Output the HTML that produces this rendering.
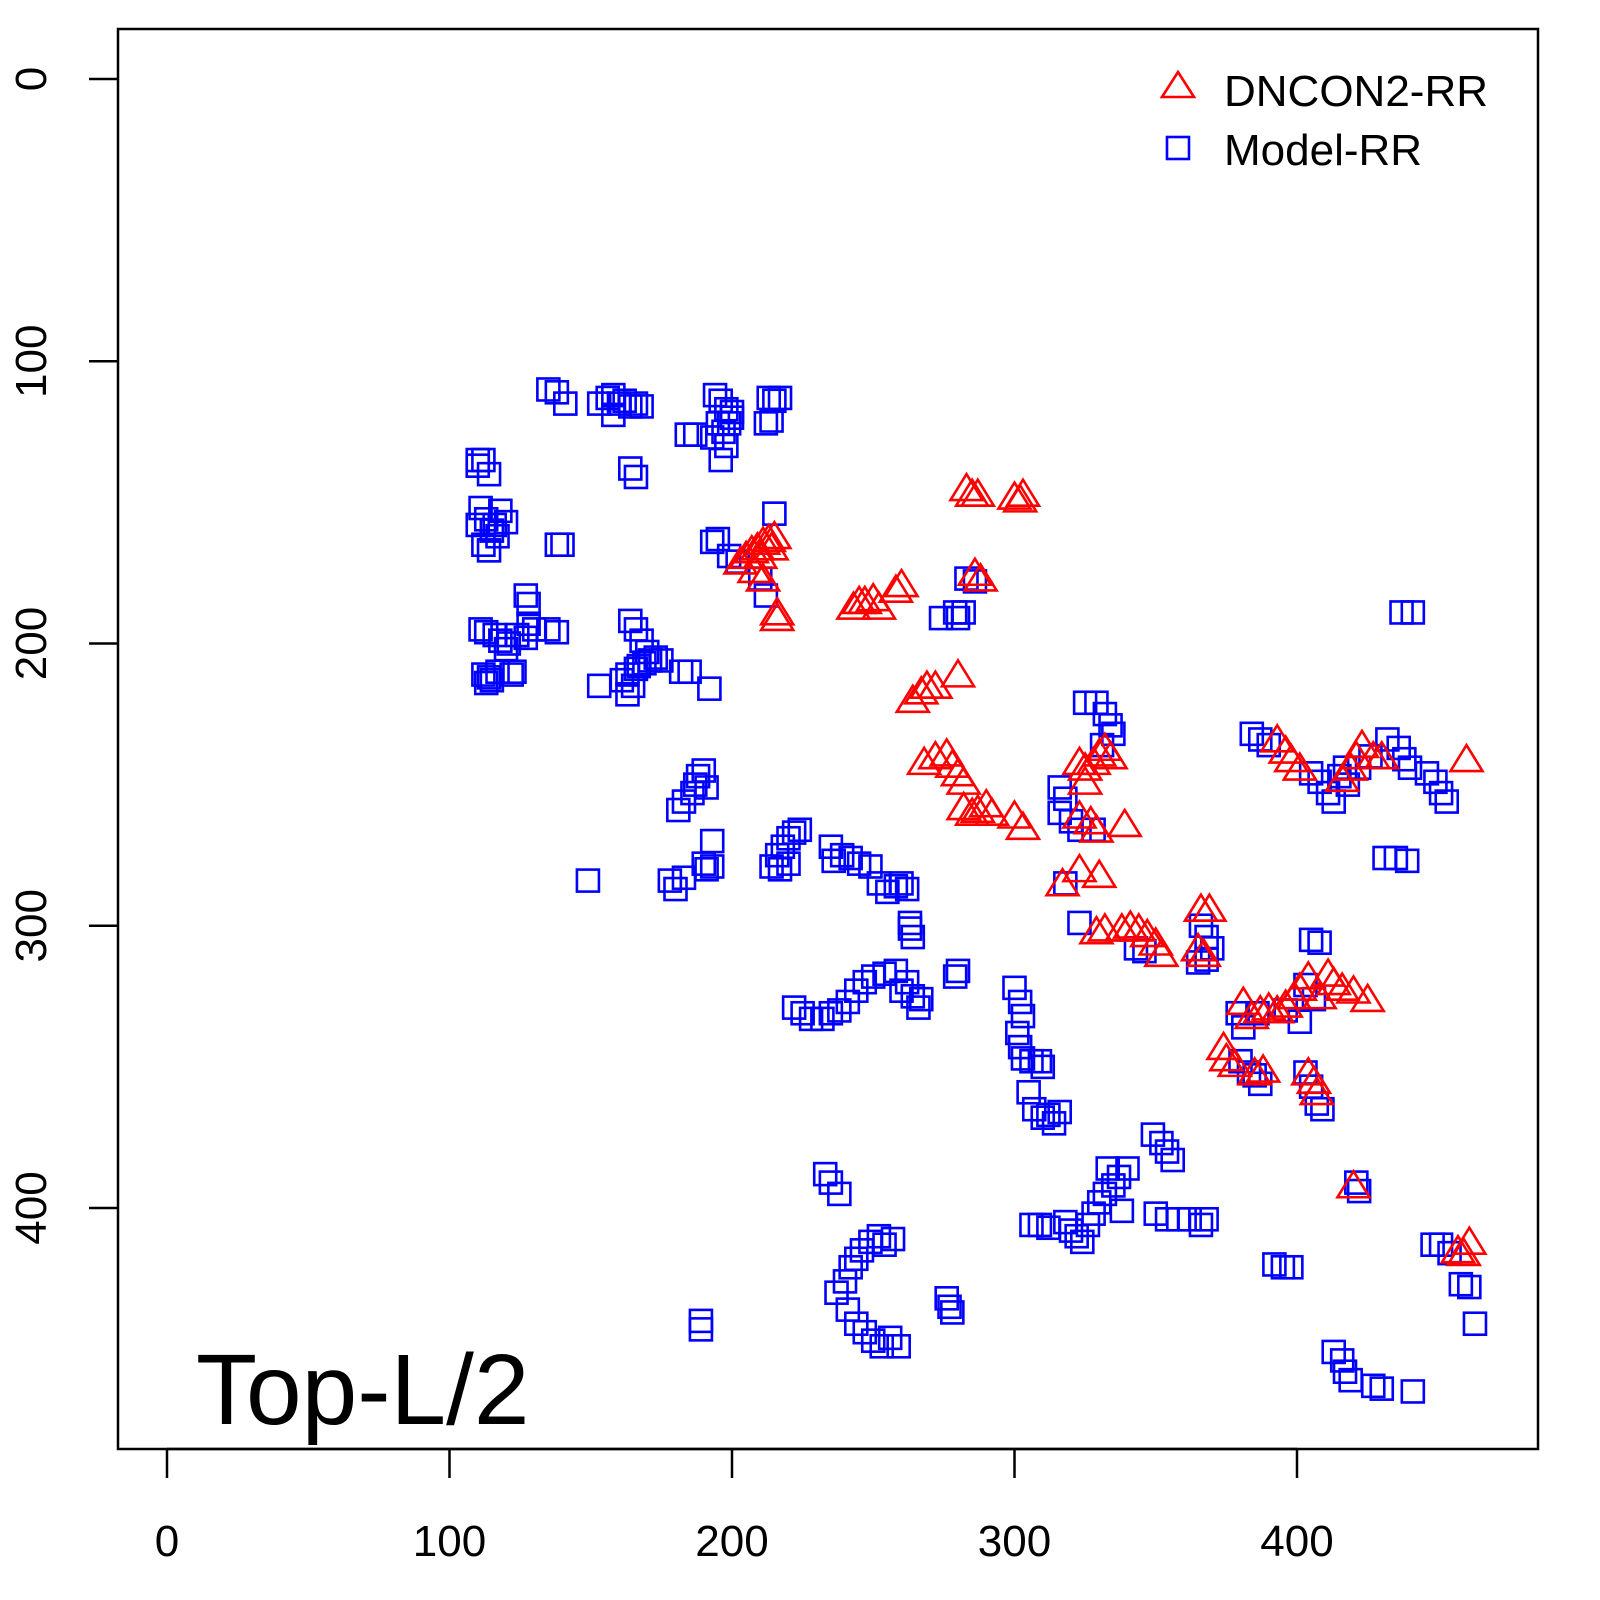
<!DOCTYPE html>
<html><head><meta charset="utf-8"><style>
html,body{margin:0;padding:0;background:#fff}
svg{display:block}
text{font-family:"Liberation Sans",sans-serif;fill:#000}
</style></head><body>
<svg id="chart" width="1600" height="1600" viewBox="0 0 1600 1600" xmlns="http://www.w3.org/2000/svg">
<rect x="118" y="29" width="1420" height="1420" fill="none" stroke="#000" stroke-width="2.5"/>
<g id="marks"></g>
<g id="axes"></g>
<g>
<path d="M1178,72 L1194,97 L1162,97 Z" fill="none" stroke="#f00" stroke-width="2.6"/>
<text x="1224" y="106" font-size="44">DNCON2-RR</text>
<rect x="1167" y="137" width="22" height="22" fill="none" stroke="#00f" stroke-width="2.6"/>
<text x="1224" y="165" font-size="44">Model-RR</text>
</g>
<text x="196" y="1424" font-size="100">Top-L/2</text>
</svg>
<script>
const xTicks=[0,100,200,300,400];
const yTicks=[0,100,200,300,400];
const modelX=[135,138,141,153,156,158,160,162,164,166,168,158,164,166,184,187,194,196,198,200,195,197,199,198,200,193,196,213,215,217,212,214,215,110,110,112,114,111,113,115,117,112,114,116,110,118,120,138,140,193,195,199,202,210,212,127,128,111,113,116,118,121,124,127,130,128,135,138,120,114,113,115,117,112,123,122,153,164,166,168,170,161,163,165,167,169,171,173,175,163,166,182,185,192,181,183,186,187,188,190,191,193,178,180,183,190,191,193,149,214,216,218,220,222,224,217,220,235,236,239,242,245,249,252,255,258,260,262,263,263,264,222,225,228,232,235,238,241,244,247,250,254,258,262,264,266,267,260,279,280,274,279,280,282,283,286,300,302,303,301,302,303,306,309,310,305,307,310,312,314,316,233,235,238,237,240,242,244,246,249,252,254,257,241,244,247,250,253,256,259,189,189,276,277,278,306,309,312,318,320,322,324,326,328,330,332,335,337,333,340,338,349,352,354,356,350,354,358,362,366,368,325,329,332,334,335,331,316,318,316,320,323,328,318,323,343,346,366,368,370,368,365,384,387,390,405,408,411,413,415,417,418,422,426,432,436,438,440,446,449,451,453,437,441,431,435,439,405,408,403,406,401,396,380,383,387,385,403,405,407,409,421,422,392,395,398,448,451,454,458,461,463,413,416,417,419,427,430,441,379,381,386];
const modelY=[110,111,115,115,113,112,115,114,116,115,116,119,138,141,126,126,112,114,117,118,122,125,122,130,120,127,135,113,114,113,122,121,154,135,137,135,140,152,156,160,162,165,167,158,158,153,157,165,165,164,163,169,171,177,183,183,186,195,196,197,199,200,197,198,195,193,195,196,202,212,214,213,210,211,210,211,215,192,195,199,203,213,211,215,208,207,206,205,206,218,209,210,210,216,259,256,253,250,247,245,251,270,284,287,283,278,280,279,284,279,275,272,269,267,266,280,278,272,277,275,276,278,279,285,288,286,285,287,299,301,304,329,331,333,333,331,330,327,323,320,318,317,316,320,325,329,326,323,318,316,191,189,191,189,177,178,322,327,332,338,343,347,348,348,350,359,365,368,367,370,366,388,391,395,430,426,421,418,415,412,410,413,411,436,441,444,447,449,446,449,440,443,432,435,437,406,406,407,405,408,410,412,406,402,398,395,392,389,386,386,401,374,377,380,383,402,404,404,404,406,404,221,221,225,229,232,236,251,255,260,263,266,266,285,299,308,309,300,304,308,312,313,232,234,236,246,249,253,256,247,244,250,244,240,234,237,241,244,246,249,253,256,189,189,276,276,277,305,306,321,326,334,330,348,352,356,353,352,357,363,365,391,394,420,421,421,413,413,416,427,428,441,451,454,458,461,463,464,465,331,336,331];
const dnconX=[203,205,207,209,211,213,215,214,210,208,211,216,216,283,285,287,300,302,303,243,245,247,250,252,258,260,286,288,264,267,269,272,280,268,272,276,278,280,282,282,285,287,290,292,300,303,323,325,328,330,332,334,325,323,327,329,339,317,323,330,329,332,338,341,344,347,350,352,366,369,365,367,381,384,387,390,393,396,399,401,404,411,413,416,420,425,374,375,378,385,388,404,406,407,420,393,396,398,401,416,419,421,423,427,430,460,457,461,459,408];
const dnconY=[172,170,168,167,165,164,163,167,170,175,178,190,192,146,148,148,149,150,148,188,186,186,185,188,182,180,176,178,221,218,216,216,212,243,241,240,244,247,250,259,261,260,258,261,262,266,243,245,243,240,238,241,250,262,264,267,265,286,281,283,303,302,302,301,302,304,307,311,295,295,309,311,328,333,331,330,331,329,326,323,319,318,321,323,324,327,344,348,350,353,352,353,356,360,393,235,239,242,245,249,245,241,237,241,241,242,416,413,417,326];
const NS='http://www.w3.org/2000/svg';
function xs(v){return 167+v*2.825;}
function ys(v){return 79+v*2.8225;}
const marks=document.getElementById('marks');
const axes=document.getElementById('axes');
function mk(tag,attrs,parent){const e=document.createElementNS(NS,tag);for(const k in attrs)e.setAttribute(k,attrs[k]);parent.appendChild(e);return e;}
// x axis
mk('line',{x1:xs(xTicks[0]),y1:1449,x2:xs(xTicks[xTicks.length-1]),y2:1449,stroke:'#000','stroke-width':2.5},axes);
xTicks.forEach(t=>{
  const l=mk('line',{x1:xs(t),y1:1449,x2:xs(t),y2:1478,stroke:'#000','stroke-width':2.5},axes);
  
  
  const tx=mk('text',{x:xs(t),y:1556,'font-size':44,'text-anchor':'middle'},axes);
  tx.textContent=t;
  
  
});
// y axis
yTicks.forEach(t=>{
  const l=mk('line',{x1:89,y1:ys(t),x2:118,y2:ys(t),stroke:'#000','stroke-width':2.5},axes);
  
  
  const tx=mk('text',{x:0,y:0,'font-size':44,'text-anchor':'middle',transform:'translate(46,'+ys(t)+') rotate(-90)'},axes);
  tx.textContent=t;
  
  
});
modelX.forEach((v,i)=>{
  const r=mk('rect',{x:xs(v)-11,y:ys(modelY[i])-11,width:22,height:22,fill:'none',stroke:'#00f','stroke-width':2.6},marks);
  
  
});
dnconX.forEach((v,i)=>{
  const cx=xs(v),cy=ys(dnconY[i]);
  const p=mk('path',{d:'M'+cx+','+(cy-17)+' L'+(cx+16)+','+(cy+9)+' L'+(cx-16)+','+(cy+9)+' Z',fill:'none',stroke:'#f00','stroke-width':2.6},marks);
  
  
});
</script>
</body></html>
